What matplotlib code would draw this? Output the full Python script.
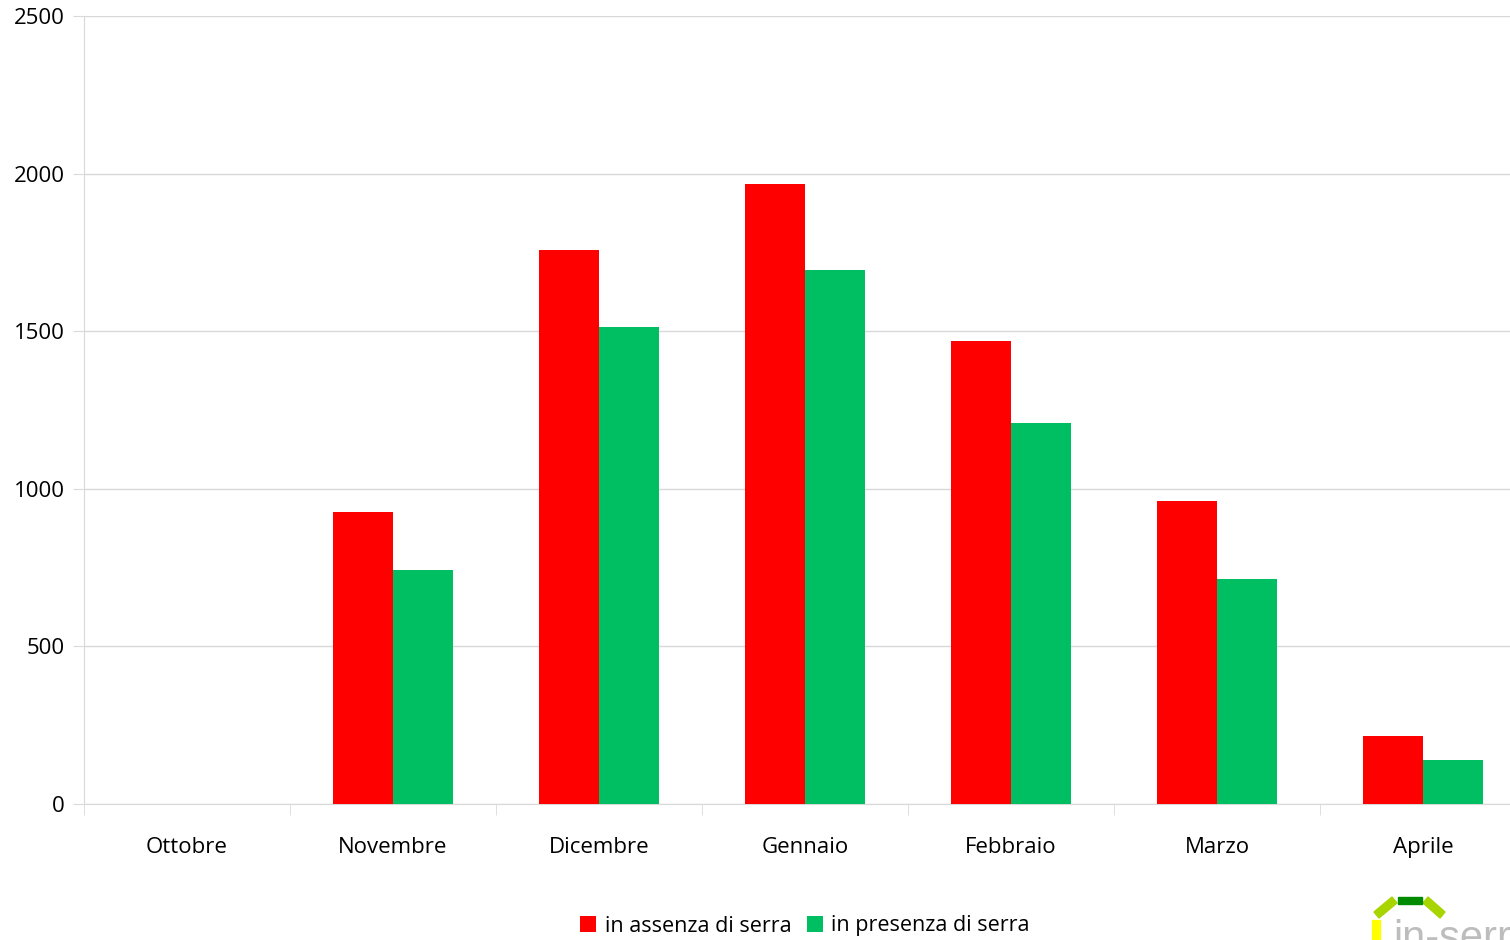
import matplotlib
matplotlib.use("Agg")
import matplotlib.pyplot as plt
import numpy as np
from matplotlib.patches import Rectangle, Polygon

plt.rcParams['font.family'] = ['Open Sans', 'DejaVu Sans']

months = ["Ottobre", "Novembre", "Dicembre", "Gennaio", "Febbraio", "Marzo", "Aprile"]
assenza = [0, 926, 1758, 1967, 1469, 961, 216]
presenza = [0, 742, 1513, 1694, 1209, 714, 140]
series_labels = ["in assenza di serra", "in presenza di serra"]
yticks = [0, 500, 1000, 1500, 2000, 2500]

red = "#FF0000"
green = "#00BF63"
grid_c = "#D9D9D9"

W, H = 1510, 940
fig = plt.figure(figsize=(W / 100, H / 100), dpi=100)
# axes: left 84px, bottom at y=804, top at y=16, right edge beyond figure (1526px)
ax = fig.add_axes([84 / W, (H - 804) / H, 1442 / W, 788 / H])

x = np.arange(len(months))
bw = 0.29
ax.bar(x - bw / 2, assenza, width=bw, color=red, label=series_labels[0], zorder=3)
ax.bar(x + bw / 2, presenza, width=bw, color=green, label=series_labels[1], zorder=3)

ax.set_xlim(-0.5, len(months) - 0.5)
ax.set_ylim(0, 2500)
ax.set_yticks(yticks)
ax.set_yticklabels([str(v) for v in yticks], fontsize=16)
ax.yaxis.grid(True, color=grid_c, linewidth=1, zorder=0)
ax.tick_params(axis='y', length=8, color=grid_c, pad=6)

ax.set_xticks(x)
ax.set_xticklabels(months, fontsize=16)
ax.tick_params(axis='x', length=0, pad=24)
ax.set_xticks(np.arange(-0.5, len(months) + 0.5, 1), minor=True)
ax.tick_params(axis='x', which='minor', length=8, color=grid_c)

for s in ['top', 'right']:
    ax.spines[s].set_visible(False)
ax.spines['left'].set_color(grid_c)
ax.spines['bottom'].set_color(grid_c)

leg = fig.legend(loc='center', bbox_to_anchor=(805 / W, 1 - 926 / H), ncol=2,
                 frameon=False, fontsize=15.5, handlelength=0.75, handleheight=0.75,
                 handletextpad=0.4, columnspacing=0.7)

# logo (partially clipped at bottom right, as in the reference)
def px(xp, yp):
    return (xp / W, 1 - yp / H)

fig.patches.append(Rectangle(px(1372, 940), 8 / W, 20 / H, transform=fig.transFigure,
                             color="#FFFF00", zorder=5))
fig.patches.append(Polygon([px(1374, 912), px(1392, 897), px(1397, 903), px(1379, 918)],
                           closed=True, transform=fig.transFigure, color="#A8D400", zorder=5))
fig.patches.append(Polygon([px(1423, 903), px(1428, 897), px(1445, 912), px(1440, 918)],
                           closed=True, transform=fig.transFigure, color="#A8D400", zorder=5))
fig.patches.append(Rectangle(px(1398, 904), 24 / W, 7 / H, transform=fig.transFigure,
                             color="#008A00", zorder=5))
fig.text(1393 / W, 1 - 950 / H, "in-serra", fontsize=30, color="#BDBDBD",
         ha='left', va='baseline', family='Liberation Sans')

fig.savefig("out.png", dpi=100)
